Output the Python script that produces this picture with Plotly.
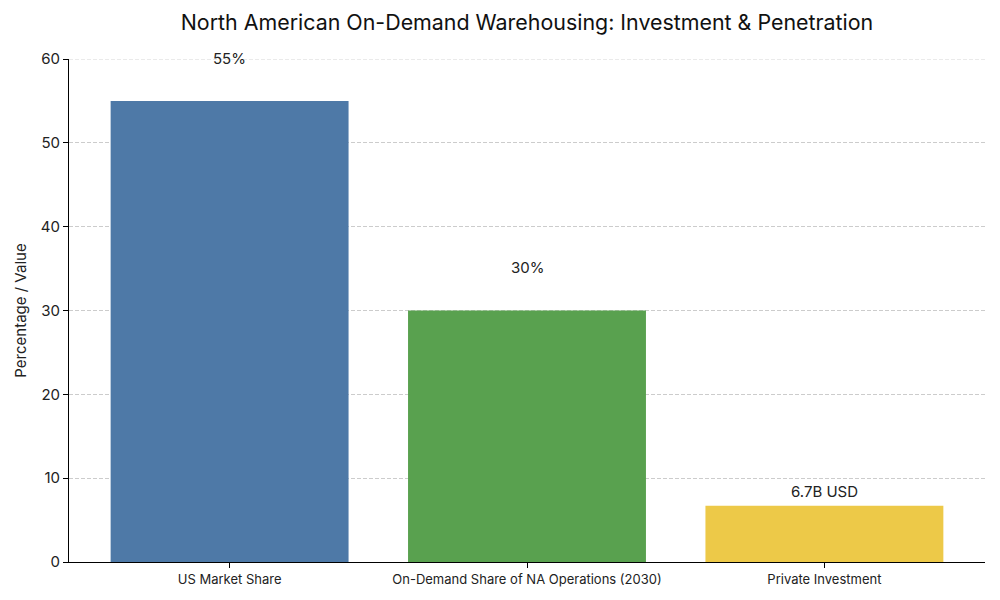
import plotly.graph_objects as go

categories = ["US Market Share", "On-Demand Share of NA Operations (2030)", "Private Investment"]
values = [55, 30, 6.7]
labels = ["55%", "30%", "6.7B USD"]
colors = ["#4e79a7", "#59a14f", "#edc948"]
label_offsets = [5.1, 5.1, 1.65]

FONT = "Inter"
Y_MAX = 60

fig = go.Figure()
fig.add_trace(go.Bar(
    x=list(range(len(categories))), y=values,
    marker=dict(color=colors, line=dict(width=0)),
    width=0.8, hoverinfo="skip",
))
for i, (v, lab, off) in enumerate(zip(values, labels, label_offsets)):
    fig.add_annotation(x=i, xref="x", y=(v + off) / Y_MAX, yref="paper",
                       text=lab, showarrow=False,
                       xanchor="center", yanchor="middle",
                       font=dict(family=FONT, size=15, color="#222222"))

# top gridline (at range edge)
fig.add_shape(type="line", xref="paper", x0=0, x1=1, yref="y", y0=Y_MAX, y1=Y_MAX,
              line=dict(color="#cccccc", width=0.8, dash="4px,2px"), layer="below")

fig.update_layout(
    width=992, height=592,
    margin=dict(l=59, r=15, t=51, b=38),
    plot_bgcolor="white", paper_bgcolor="white",
    title=dict(text="North American On-Demand Warehousing: Investment & Penetration",
               x=0.5, xref="paper", xanchor="center", y=0.976, yanchor="middle",
               font=dict(family=FONT, size=21.4, color="#111111")),
    showlegend=False,
)
fig.update_xaxes(
    range=[-0.54, 2.54], tickmode="array", tickvals=list(range(len(categories))),
    ticktext=categories, showgrid=False, zeroline=False,
    showline=True, linecolor="black", linewidth=1,
    ticks="outside", ticklen=5, tickcolor="black",
    tickfont=dict(family=FONT, size=13, color="#222222"),
)
fig.update_yaxes(
    range=[0, Y_MAX], tickvals=[0, 10, 20, 30, 40, 50, 60],
    showgrid=True, gridcolor="#cccccc", griddash="4px,2px", gridwidth=0.8,
    zeroline=False, showline=True, linecolor="black", linewidth=1,
    ticks="outside", ticklen=5, tickcolor="black",
    tickfont=dict(family=FONT, size=15, color="#222222"),
    title=dict(text="Percentage / Value", font=dict(family=FONT, size=15, color="#222222"), standoff=10),
)
fig.write_html("out.html")
